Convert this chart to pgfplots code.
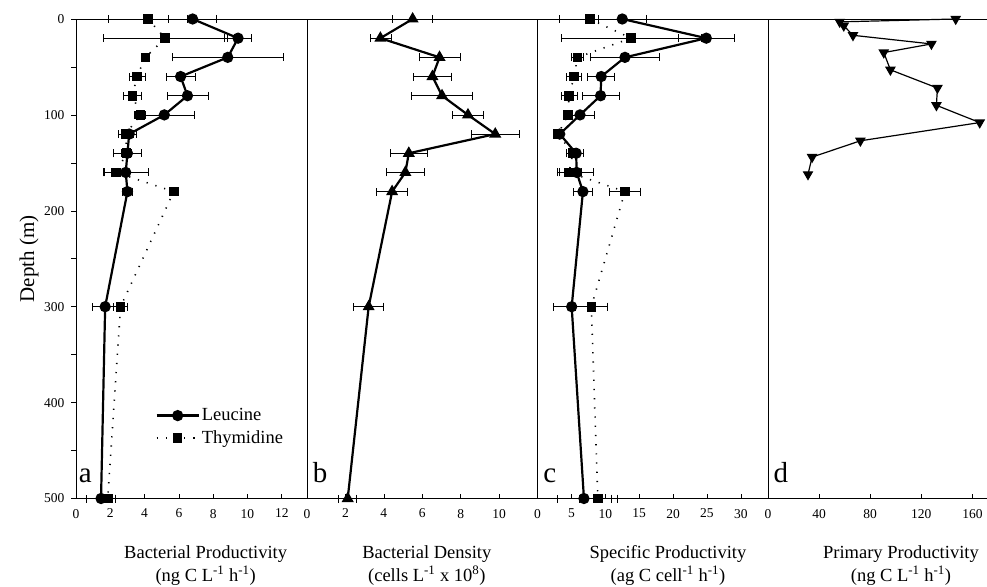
\documentclass[border=0pt]{standalone}
\usepackage{fontspec}
\setmainfont{Liberation Serif}
\usepackage{pgfplots}
\pgfplotsset{compat=1.18}
\tikzset{plab/.style={font=\fontsize{29}{30}\selectfont, anchor=base west, inner sep=0pt}}
\begin{document}
\begin{tikzpicture}
\useasboundingbox (0pt,0pt) rectangle (987pt,586pt);
\pgfplotsset{
  panel/.style={
    scale only axis, height=479.5pt, y dir=reverse, ymin=0, ymax=500,
    anchor=north west, axis line style={line width=0.9pt},
    tick style={black, line width=0.6pt},
    xtick pos=bottom, xtick align=inside, major tick length=5pt, minor tick length=5pt,
    ytick=\empty,
    every tick label/.append style={font=\fontsize{13.5}{15}\selectfont},
    xticklabel style={yshift=-7pt},
    /pgf/number format/assume math mode=true,
    every axis x label/.style={at={(axis description cs:#1,-0.09)}, anchor=north, align=center, font=\fontsize{18.5}{23}\selectfont},
    clip=false,
    legend image code/.code={\draw[mark repeat=2,mark phase=2,##1] plot coordinates {(0pt,0pt)(21pt,0pt)(42pt,0pt)};},
  },
  leu/.style={black, line width=2.2pt, mark=*, mark size=4.5pt, mark options={solid}},
  thy/.style={black, line width=1.6pt, dash pattern=on 1.2pt off 8pt, mark=square*, mark size=4pt, mark options={solid}},
  errx/.style={error bars/.cd, x dir=both, x explicit, error mark=|, error bar style={line width=0.6pt,solid}, error mark options={mark size=4pt, line width=0.6pt, solid}},
}
% ---------------- panel a
\begin{axis}[panel=0.56, at={(76pt,567pt)}, width=231.5pt, xmin=0, xmax=13.5,
  xtick={0,2,...,12},
  ytick={0,100,...,500}, minor ytick={50,150,...,450}, ytick pos=left, ytick align=outside,
  yticklabel style={xshift=-3pt},
  ylabel={Depth (m)},
  every axis y label/.style={at={(axis description cs:-0.2026,0.5)}, rotate=90, anchor=center, font=\fontsize{21}{24}\selectfont},
  xlabel={Bacterial Productivity\\(ng C L\textsuperscript{-1} h\textsuperscript{-1})},
  legend style={at={(axis description cs:0.33,0.196)}, anchor=north west, draw=none, fill=none,
    font=\fontsize{18.5}{20}\selectfont, row sep=4.5pt, legend cell align=left},
]
\addplot[leu, errx] coordinates {
 (6.8,0) +- (1.4,0)
 (9.45,20) +- (0.8,0)
 (8.85,40) +- (3.25,0)
 (6.1,60) +- (0.86,0)
 (6.5,80) +- (1.2,0)
 (5.15,100) +- (1.75,0)
 (3.1,120) +- (0.4,0)
 (3.0,140) +- (0.8,0)
 (2.9,160) +- (1.3,0)
 (3.0,180) +- (0.3,0)
 (1.7,300) +- (0.73,0)
 (1.46,500) +- (0.84,0)
};
\addplot[thy, errx] coordinates {
 (4.2,0) +- (2.3,0)
 (5.2,20) +- (3.6,0)
 (4.05,40) +- (0.2,0)
 (3.55,60) +- (0.47,0)
 (3.3,80) +- (0.53,0)
 (3.75,100) +- (0.3,0)
 (2.9,120) +- (0.45,0)
 (2.95,140) +- (0.3,0)
 (2.35,160) +- (0.7,0)
 (5.7,180) +- (0.2,0)
 (2.6,300) +- (0.4,0)
 (1.85,500) +- (0.42,0)
};
\legend{Leucine,Thymidine}
\node[plab] at (axis description cs:0.012,0.034) {a};
\end{axis}
% ---------------- panel b
\begin{axis}[panel=0.52, at={(307pt,567pt)}, width=230.5pt, xmin=0, xmax=12,
  xtick={0,2,...,10},
  xlabel={Bacterial Density\\(cells L\textsuperscript{-1} x 10\textsuperscript{8})},
]
\addplot[black, line width=2.2pt, mark=triangle*, mark size=4.8pt, errx] coordinates {
 (5.5,0) +- (1.04,0)
 (3.82,20) +- (0.55,0)
 (6.9,40) +- (1.07,0)
 (6.53,60) +- (1.0,0)
 (7.03,80) +- (1.6,0)
 (8.38,100) +- (0.82,0)
 (9.8,120) +- (1.25,0)
 (5.3,140) +- (0.97,0)
 (5.12,160) +- (1.0,0)
 (4.43,180) +- (0.8,0)
 (3.21,300) +- (0.78,0)
 (2.12,500) +- (0.47,0)
};
\node[plab] at (axis description cs:0.025,0.034) {b};
\end{axis}
% ---------------- panel c
\begin{axis}[panel=0.566, at={(537.5pt,567pt)}, width=230.5pt, xmin=0, xmax=34,
  xtick={0,5,...,30},
  xlabel={Specific Productivity\\(ag C cell\textsuperscript{-1} h\textsuperscript{-1})},
]
\addplot[leu, errx] coordinates {
 (12.5,0) +- (3.5,0)
 (24.9,20) +- (4.2,0)
 (12.9,40) +- (5.1,0)
 (9.4,60) +- (2.0,0)
 (9.3,80) +- (2.7,0)
 (6.27,100) +- (2.15,0)
 (3.28,120) +- (0.5,0)
 (5.7,140) +- (1.0,0)
 (5.78,160) +- (2.5,0)
 (6.7,180) +- (1.4,0)
 (5.04,300) +- (2.7,0)
 (6.85,500) +- (4.0,0)
};
\addplot[thy, errx] coordinates {
 (7.7,0) +- (4.5,0)
 (13.8,20) +- (10.3,0)
 (5.9,40) +- (0.9,0)
 (5.4,60) +- (1.1,0)
 (4.65,80) +- (1.2,0)
 (4.5,100) +- (0.5,0)
 (3.03,120) +- (0.4,0)
 (5.2,140) +- (1.0,0)
 (4.65,160) +- (1.8,0)
 (12.9,180) +- (2.3,0)
 (7.94,300) +- (2.3,0)
 (8.9,500) +- (2.8,0)
};
\node[plab] at (axis description cs:0.025,0.034) {c};
\end{axis}
% ---------------- panel d
\begin{axis}[panel=0.607, at={(768pt,567pt)}, width=219pt, xmin=0, xmax=171.4,
  xtick={0,40,...,160},
  xlabel={Primary Productivity\\(ng C L\textsuperscript{-1} h\textsuperscript{-1})},
]
\addplot[black, line width=1.2pt, mark=triangle*, mark size=5pt, mark options={rotate=180}] coordinates {
 (146.9,0) (56.1,3) (59.3,7) (66.5,17) (127.9,26) (90.6,35) (95.8,53)
 (132.6,72) (131.8,90) (165.7,108) (72.3,127) (34.5,144) (31.3,162)
};
\node[plab] at (axis description cs:0.025,0.034) {d};
\end{axis}
\end{tikzpicture}
\end{document}
